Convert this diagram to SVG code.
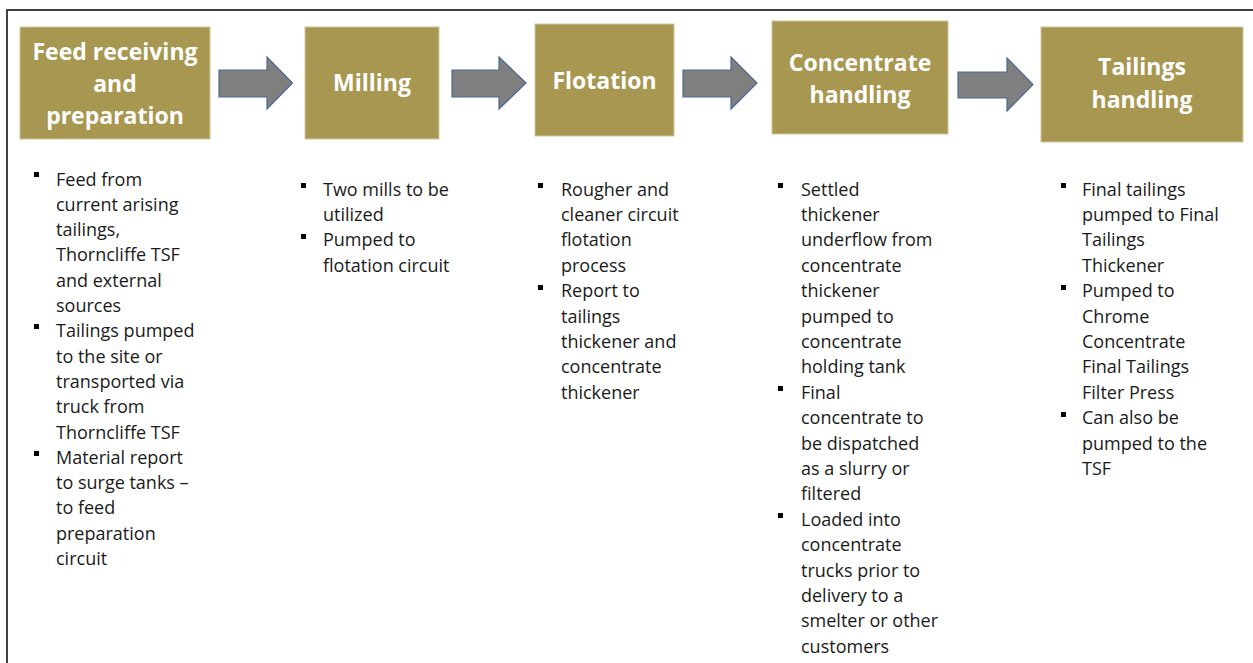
<svg xmlns="http://www.w3.org/2000/svg" width="1253" height="663" viewBox="0 0 1253 663">
<style>
.box{fill:#A89751;stroke:#CFC69A;stroke-width:1}
.ttl{font-family:"Open Sans","Liberation Sans",sans-serif;font-weight:bold;font-size:23px;fill:#FFFFFF;text-anchor:middle}
.txt{font-family:"Open Sans","Liberation Sans",sans-serif;font-size:18px;fill:#1A1A1A}
.blt{fill:#000000}
.arr{fill:#7F7F7F;stroke:#4A6A94;stroke-width:1.2;stroke-linejoin:miter}
</style>
<defs>
<rect id="b" class="blt" width="5" height="5"/>
</defs>
<rect x="0" y="0" width="1253" height="663" fill="#FFFFFF"/>
<path d="M7,663 V10 H1253" fill="none" stroke="#404040" stroke-width="2"/>

<g id="connectors">
<polygon class="arr" points="219,70 267,70 267,57 292.5,83 267,109 267,97 219,97"/>
<polygon class="arr" points="452,70 499,70 499,57 526,83 499,109 499,97 452,97"/>
<polygon class="arr" points="683,70 731,70 731,57 757,83 731,109 731,97 683,97"/>
<polygon class="arr" points="958,72 1007,72 1007,58 1033,84.5 1007,111 1007,98 958,98"/>
</g>

<g id="node-feed">
<rect class="box" x="20" y="27" width="190" height="112"/>
<text class="ttl" x="115" y="60">Feed receiving</text>
<text class="ttl" x="115" y="92">and</text>
<text class="ttl" x="115" y="124">preparation</text>
<use href="#b" x="34" y="172"/>
<use href="#b" x="34" y="324"/>
<use href="#b" x="34" y="451"/>
<text class="txt">
<tspan x="56" y="185.5">Feed from</tspan>
<tspan x="56" y="210.8">current arising</tspan>
<tspan x="56" y="236.1">tailings,</tspan>
<tspan x="56" y="261.4">Thorncliffe TSF</tspan>
<tspan x="56" y="286.7">and external</tspan>
<tspan x="56" y="312">sources</tspan>
<tspan x="56" y="337.3">Tailings pumped</tspan>
<tspan x="56" y="362.6">to the site or</tspan>
<tspan x="56" y="387.9">transported via</tspan>
<tspan x="56" y="413.2">truck from</tspan>
<tspan x="56" y="438.5">Thorncliffe TSF</tspan>
<tspan x="56" y="463.8">Material report</tspan>
<tspan x="56" y="489.1">to surge tanks –</tspan>
<tspan x="56" y="514.4">to feed</tspan>
<tspan x="56" y="539.7">preparation</tspan>
<tspan x="56" y="565">circuit</tspan>
</text>
</g>

<g id="node-milling">
<rect class="box" x="305" y="27" width="134" height="112"/>
<text class="ttl" x="372" y="91">Milling</text>
<use href="#b" x="301" y="183"/>
<use href="#b" x="301" y="234"/>
<text class="txt">
<tspan x="323" y="195.5">Two mills to be</tspan>
<tspan x="323" y="220.9">utilized</tspan>
<tspan x="323" y="246.3">Pumped to</tspan>
<tspan x="323" y="271.7">flotation circuit</tspan>
</text>
</g>

<g id="node-flotation">
<rect class="box" x="535" y="24" width="139" height="112"/>
<text class="ttl" x="604.5" y="89">Flotation</text>
<use href="#b" x="538" y="183"/>
<use href="#b" x="538" y="285"/>
<text class="txt">
<tspan x="561" y="195.5">Rougher and</tspan>
<tspan x="561" y="220.9">cleaner circuit</tspan>
<tspan x="561" y="246.3">flotation</tspan>
<tspan x="561" y="271.7">process</tspan>
<tspan x="561" y="297.1">Report to</tspan>
<tspan x="561" y="322.5">tailings</tspan>
<tspan x="561" y="347.9">thickener and</tspan>
<tspan x="561" y="373.3">concentrate</tspan>
<tspan x="561" y="398.7">thickener</tspan>
</text>
</g>

<g id="node-concentrate">
<rect class="box" x="772" y="21" width="176" height="113"/>
<text class="ttl" x="860" y="71">Concentrate</text>
<text class="ttl" x="860" y="103">handling</text>
<use href="#b" x="778" y="183"/>
<use href="#b" x="778" y="386"/>
<use href="#b" x="778" y="513"/>
<text class="txt">
<tspan x="801" y="195.5">Settled</tspan>
<tspan x="801" y="220.9">thickener</tspan>
<tspan x="801" y="246.3">underflow from</tspan>
<tspan x="801" y="271.7">concentrate</tspan>
<tspan x="801" y="297.1">thickener</tspan>
<tspan x="801" y="322.5">pumped to</tspan>
<tspan x="801" y="347.9">concentrate</tspan>
<tspan x="801" y="373.3">holding tank</tspan>
<tspan x="801" y="398.7">Final</tspan>
<tspan x="801" y="424.1">concentrate to</tspan>
<tspan x="801" y="449.5">be dispatched</tspan>
<tspan x="801" y="474.9">as a slurry or</tspan>
<tspan x="801" y="500.3">filtered</tspan>
<tspan x="801" y="525.7">Loaded into</tspan>
<tspan x="801" y="551.1">concentrate</tspan>
<tspan x="801" y="576.5">trucks prior to</tspan>
<tspan x="801" y="601.9">delivery to a</tspan>
<tspan x="801" y="627.3">smelter or other</tspan>
<tspan x="801" y="652.7">customers</tspan>
</text>
</g>

<g id="node-tailings">
<rect class="box" x="1041" y="27" width="202" height="115"/>
<text class="ttl" x="1142" y="75">Tailings</text>
<text class="ttl" x="1142" y="108">handling</text>
<use href="#b" x="1061" y="183"/>
<use href="#b" x="1061" y="285"/>
<use href="#b" x="1061" y="412"/>
<text class="txt">
<tspan x="1082" y="195.5">Final tailings</tspan>
<tspan x="1082" y="220.9">pumped to Final</tspan>
<tspan x="1082" y="246.3">Tailings</tspan>
<tspan x="1082" y="271.7">Thickener</tspan>
<tspan x="1082" y="297.1">Pumped to</tspan>
<tspan x="1082" y="322.5">Chrome</tspan>
<tspan x="1082" y="347.9">Concentrate</tspan>
<tspan x="1082" y="373.3">Final Tailings</tspan>
<tspan x="1082" y="398.7">Filter Press</tspan>
<tspan x="1082" y="424.1">Can also be</tspan>
<tspan x="1082" y="449.5">pumped to the</tspan>
<tspan x="1082" y="474.9">TSF</tspan>
</text>
</g>
</svg>
